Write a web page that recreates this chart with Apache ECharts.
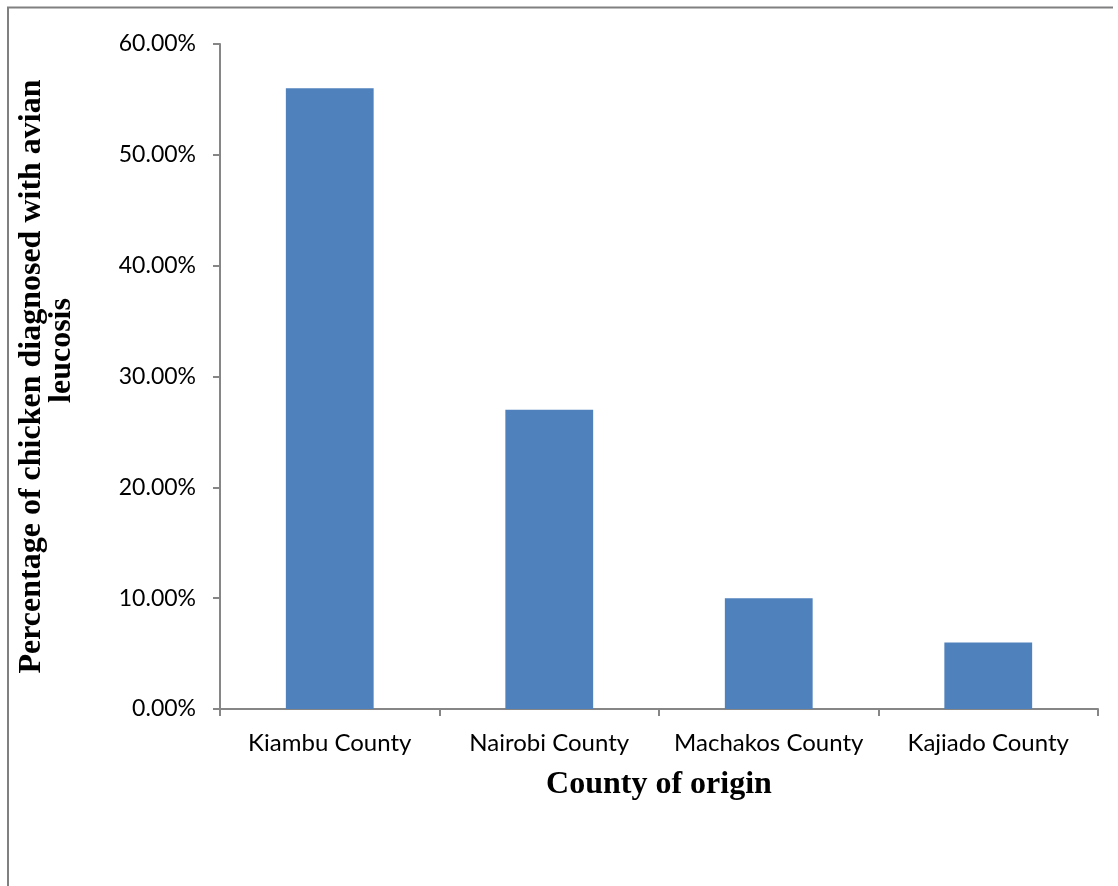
<!DOCTYPE html>
<html>
<head>
<meta charset="utf-8">
<script src="https://cdn.jsdelivr.net/npm/echarts@6/dist/echarts.min.js"></script>
<style>
  html, body { margin: 0; padding: 0; background: #fff; }
  #chart { width: 1118px; height: 886px; }
</style>
</head>
<body>
<div id="chart"></div>
<script>
  // data
  var counties = ['Kiambu County', 'Nairobi County', 'Machakos County', 'Kajiado County'];
  var percentages = [56, 27, 10, 6];
  var yTicks = [0, 10, 20, 30, 40, 50, 60];

  var chart = echarts.init(document.getElementById('chart'));
  var axisGray = '#868686';
  var titleFont = { fontFamily: 'Liberation Serif', fontWeight: 'bold', fontSize: 32, color: '#000', lineHeight: 30 };

  chart.setOption({
    animation: false,
    backgroundColor: '#fff',
    // outer frame of the figure (left and top edges only)
    graphic: [{
      type: 'polyline',
      shape: { points: [[8, 886], [8, 7.5], [1113, 7.5]] },
      style: { stroke: '#808080', lineWidth: 2, fill: null }
    }],
    grid: { left: 220, right: 20, top: 44, bottom: 177, outerBoundsMode: 'none' },
    xAxis: {
      type: 'category',
      data: counties,
      name: 'County of origin',
      nameLocation: 'middle',
      nameGap: 60,
      nameTextStyle: { fontFamily: 'Liberation Serif', fontWeight: 'bold', fontSize: 32, color: '#000' },
      axisLine: { lineStyle: { color: axisGray, width: 2 } },
      axisTick: { show: true, interval: 0, length: 7, lineStyle: { color: axisGray, width: 2 } },
      axisLabel: { interval: 0, hideOverlap: false, margin: 22, fontFamily: 'Lato', fontSize: 24, color: '#000' }
    },
    yAxis: {
      type: 'value',
      min: yTicks[0],
      max: yTicks[yTicks.length - 1],
      interval: 10,
      name: '{a|Percentage of chicken diagnosed with avian}\n{b|leucosis}',
      nameLocation: 'middle',
      nameRotate: 90,
      nameGap: 143,
      nameTextStyle: Object.assign({}, titleFont, {
        rich: {
          a: titleFont,
          b: Object.assign({}, titleFont, { padding: [0, 0, 0, 52] })
        }
      }),
      splitLine: { show: false },
      axisLine: { show: true, lineStyle: { color: axisGray, width: 2 } },
      axisTick: { show: true, length: 7, lineStyle: { color: axisGray, width: 2 } },
      axisLabel: {
        margin: 24,
        fontFamily: 'Lato',
        fontSize: 23,
        color: '#000',
        formatter: function (v) { return v.toFixed(2) + '%'; }
      }
    },
    series: [{
      type: 'bar',
      data: percentages,
      barWidth: '40%',
      itemStyle: { color: '#4F81BD' }
    }]
  });
</script>
</body>
</html>
